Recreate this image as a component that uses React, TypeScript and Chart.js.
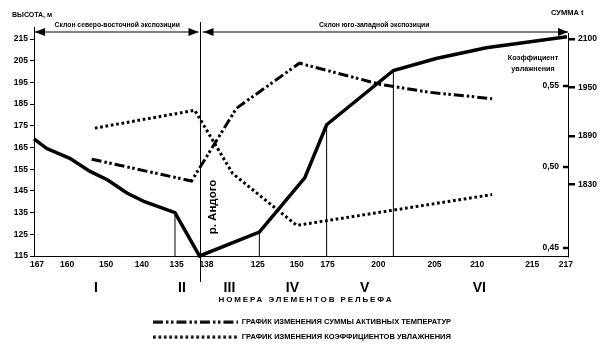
import React, { useEffect, useRef } from 'react';
import { Chart, registerables } from 'chart.js';

Chart.register(...registerables);

const FONT = '"Liberation Sans Narrow", "Liberation Sans", Arial, sans-serif';

// ---- data ----
// position along the profile (0..100 of the plotted length)
const profileX = [0, 2.4, 6.7, 10.5, 13.8, 17.4, 20.7, 26.4, 31.0, 42.2, 50.7, 54.8, 67.3, 75.3, 84.7, 99.8];
const profileH = [169, 164.5, 160, 154, 150, 144, 140, 135, 115, 126, 151, 175.5, 200.5, 206, 211, 216];
const RIVER_IDX = 8;
const dropIdx = [7, 9, 11, 12];

const sumX = [10.8, 29.5, 31.0, 37.9, 49.7, 57.2, 64.7, 74.0, 85.8];
const sumV = [1861, 1834, 1850, 1924, 1980, 1967, 1954, 1944, 1936];

const coefX = [11.4, 30.1, 37.2, 49.2, 85.8];
const coefV = [0.524, 0.535, 0.496, 0.464, 0.483];

const xTickPos = [0.56, 6.2, 13.5, 20.2, 26.7, 32.3, 41.9, 49.2, 55.0, 64.5, 75.0, 83.0, 93.3, 99.6];
const xTickLabels = ['167', '160', '150', '140', '135', '138', '125', '150', '175', '200', '205', '210', '215', '217'];

const romanPos = [11.6, 27.7, 36.6, 48.4, 61.9, 83.4];
const romanLabels = ['I', 'II', 'III', 'IV', 'V', 'VI'];

const H_MIN = 115;
const H_MAX = 215;

const sumTickVals = [1830, 1890, 1950, 2010];
const sumTickLabels = ['1830', '1890', '1950', '2100'];

const coefTickVals = [0.45, 0.5, 0.55];
const coefTickLabels = ['0,45', '0,50', '0,55'];

const slopeLabels = ['Склон северо-восточной экспозиции', 'Склон юго-западной экспозиции'];
const seriesLabels = ['ГРАФИК ИЗМЕНЕНИЯ СУММЫ АКТИВНЫХ ТЕМПЕРАТУР', 'ГРАФИК ИЗМЕНЕНИЯ КОЭФФИЦИЕНТОВ УВЛАЖНЕНИЯ'];

const SUM_DASH = [10, 3, 2.5, 2.5, 2.5, 3];
const COEF_DASH = [2.7, 2.7];

function legendSample(dash: number[], width: number) {
  const c = document.createElement('canvas');
  c.width = 85;
  c.height = 4;
  const g = c.getContext('2d')!;
  g.strokeStyle = '#000';
  g.lineWidth = width;
  g.setLineDash(dash);
  g.beginPath();
  g.moveTo(0, 2);
  g.lineTo(85, 2);
  g.stroke();
  return c;
}

export default function App() {
  const ref = useRef<HTMLCanvasElement>(null);

  useEffect(() => {
    const canvas = ref.current;
    if (!canvas) return;

    const dropData: any[] = [];
    dropIdx.forEach((i) => {
      dropData.push({ x: profileX[i], y: H_MIN }, { x: profileX[i], y: profileH[i] }, { x: profileX[i], y: null });
    });

    const annot = {
      id: 'annot',
      afterDraw(chart: any) {
        const { ctx, chartArea: ca, scales } = chart;
        const xs = scales.x;
        const yK = scales.yK;
        const line = (x1: number, y1: number, x2: number, y2: number) => {
          ctx.beginPath();
          ctx.moveTo(x1, y1);
          ctx.lineTo(x2, y2);
          ctx.stroke();
        };
        const tri = (tipX: number, y: number, dir: number) => {
          ctx.beginPath();
          ctx.moveTo(tipX, y);
          ctx.lineTo(tipX - dir * 10, y - 4);
          ctx.lineTo(tipX - dir * 10, y + 4);
          ctx.closePath();
          ctx.fill();
        };
        ctx.save();
        ctx.strokeStyle = '#000';
        ctx.fillStyle = '#000';
        ctx.lineWidth = 1;

        const rx = Math.round(xs.getPixelForValue(profileX[RIVER_IDX])) + 0.5;
        line(rx, 22, rx, 282);
        line(ca.left + 0.5, 27, ca.left + 0.5, ca.top);
        line(ca.right + 0.5, 33, ca.right + 0.5, ca.top);

        // slope arrows
        const ay = ca.top - 7;
        line(ca.left, ay, rx - 2, ay);
        line(rx + 2, ay, ca.right, ay);
        tri(ca.left + 1, ay, -1);
        tri(rx - 2, ay, 1);
        tri(rx + 3, ay, -1);
        tri(ca.right, ay, 1);

        ctx.textAlign = 'center';
        ctx.textBaseline = 'middle';
        ctx.font = `bold 6.8px ${FONT}`;
        ctx.fillText(slopeLabels[0], (ca.left + rx) / 2, ay - 7);
        ctx.fillText(slopeLabels[1], (rx + ca.right) / 2 - 10, ay - 7);

        // axis titles
        ctx.font = `bold 7px ${FONT}`;
        ctx.textAlign = 'left';
        ctx.fillText('ВЫСОТА, м', 12, 15);
        ctx.font = `bold 7.5px ${FONT}`;
        ctx.fillText('СУММА t', 551, 13);
        ctx.textAlign = 'center';
        ctx.font = `bold 7.2px ${FONT}`;
        ctx.fillText('Коэффициент', 533, 58);
        ctx.fillText('увлажнения', 533, 69);

        // coefficient axis ticks (inside)
        ctx.font = `bold 8.5px ${FONT}`;
        ctx.textAlign = 'right';
        coefTickVals.forEach((v, i) => {
          const py = Math.round(yK.getPixelForValue(v));
          ctx.lineWidth = 2.5;
          line(ca.right - 5, py, ca.right, py);
          ctx.fillText(coefTickLabels[i], ca.right - 9, py);
        });

        // river label
        ctx.save();
        ctx.translate(rx + 12, 207);
        ctx.rotate(-Math.PI / 2);
        ctx.textAlign = 'center';
        ctx.font = `bold 11.5px ${FONT}`;
        ctx.fillText('р. Андого', 0, 0);
        ctx.restore();

        // x title
        ctx.font = `bold 8px ${FONT}`;
        ctx.textAlign = 'center';
        (ctx as any).letterSpacing = '1.9px';
        ctx.fillText('НОМЕРА ЭЛЕМЕНТОВ РЕЛЬЕФА', 306, 300);
        (ctx as any).letterSpacing = '0px';
        ctx.restore();
      },
    };

    const tickFont = { family: FONT, size: 8.5, weight: 'bold' as const };

    const chart = new Chart(canvas, {
      type: 'line',
      data: {
        datasets: [
          {
            label: 'profile',
            data: profileX.map((x, i) => ({ x, y: profileH[i] })),
            xAxisID: 'x',
            yAxisID: 'y',
            borderColor: '#000',
            borderWidth: 3.5,
            pointRadius: 0,
            tension: 0,
            clip: false as any,
            borderJoinStyle: 'miter',
          },
          {
            label: seriesLabels[0],
            data: sumX.map((x, i) => ({ x, y: sumV[i] })),
            xAxisID: 'x',
            yAxisID: 'ySum',
            borderColor: '#000',
            backgroundColor: 'transparent',
            borderWidth: 3,
            borderDash: SUM_DASH,
            pointRadius: 0,
            pointStyle: legendSample(SUM_DASH, 3),
            tension: 0,
          },
          {
            label: seriesLabels[1],
            data: coefX.map((x, i) => ({ x, y: coefV[i] })),
            xAxisID: 'x',
            yAxisID: 'yK',
            borderColor: '#000',
            backgroundColor: 'transparent',
            borderWidth: 3,
            borderDash: COEF_DASH,
            pointRadius: 0,
            pointStyle: legendSample(COEF_DASH, 3),
            tension: 0,
          },
          {
            label: 'drops',
            data: dropData,
            xAxisID: 'x',
            yAxisID: 'y',
            borderColor: '#000',
            borderWidth: 1,
            pointRadius: 0,
            spanGaps: false,
          },
        ],
      },
      options: {
        animation: false,
        responsive: false,
        maintainAspectRatio: false,
        layout: { padding: { top: 39, left: 0, right: 0, bottom: 0 } },
        plugins: {
          tooltip: { enabled: false },
          legend: {
            display: true,
            position: 'bottom',
            labels: {
              usePointStyle: true,
              pointStyleWidth: 85,
              padding: 7.5,
              color: '#000',
              font: { family: FONT, size: 7.5, weight: 'bold' },
              filter: (item: any) => item.datasetIndex === 1 || item.datasetIndex === 2,
            },
          },
        },
        scales: {
          x: {
            type: 'linear',
            position: 'bottom',
            min: 0,
            max: 100,
            grid: { display: false, drawTicks: false },
            border: { display: true, color: '#000', width: 1 },
            afterBuildTicks: (s: any) => {
              s.ticks = xTickPos.map((v) => ({ value: v }));
            },
            afterFit: (s: any) => {
              s.height = 15;
            },
            ticks: {
              autoSkip: false,
              maxRotation: 0,
              padding: 4,
              color: '#000',
              font: tickFont,
              callback: (_v: any, i: number) => xTickLabels[i],
            },
          },
          x2: {
            type: 'linear',
            position: 'bottom',
            min: 0,
            max: 100,
            grid: { display: false, drawTicks: false },
            border: { display: false },
            afterBuildTicks: (s: any) => {
              s.ticks = romanPos.map((v) => ({ value: v }));
            },
            afterFit: (s: any) => {
              s.height = 40;
            },
            ticks: {
              autoSkip: false,
              maxRotation: 0,
              padding: 9,
              color: '#000',
              font: { family: FONT, size: 14, weight: 'bold' },
              callback: (_v: any, i: number) => romanLabels[i],
            },
          },
          y: {
            type: 'linear',
            position: 'left',
            min: H_MIN,
            max: H_MAX,
            grid: { drawOnChartArea: false, drawTicks: true, tickLength: 4, color: '#000' },
            border: { display: true, color: '#000', width: 1 },
            afterFit: (s: any) => {
              s.width = 34;
            },
            ticks: { stepSize: 10, padding: 2, color: '#000', font: tickFont },
          },
          yK: {
            type: 'linear',
            position: 'right',
            display: false,
            min: 0.4451,
            max: 0.579,
          },
          ySum: {
            type: 'linear',
            position: 'right',
            min: 1741,
            max: 2010,
            grid: { drawOnChartArea: false, drawTicks: true, tickLength: 7, color: '#000', lineWidth: 2.5 },
            border: { display: true, color: '#000', width: 1 },
            afterBuildTicks: (s: any) => {
              s.ticks = sumTickVals.map((v) => ({ value: v }));
            },
            afterFit: (s: any) => {
              s.width = 36;
            },
            ticks: {
              padding: 3,
              color: '#000',
              font: { family: FONT, size: 8.5, weight: 'bold' },
              callback: (_v: any, i: number) => sumTickLabels[i],
            },
          },
        },
      },
      plugins: [annot],
    } as any);

    return () => chart.destroy();
  }, []);

  return (
    <div style={{ position: 'absolute', left: 0, top: 0, width: 604, height: 351, background: '#fff' }}>
      <canvas ref={ref} width={604} height={351} style={{ display: 'block' }} />
    </div>
  );
}
